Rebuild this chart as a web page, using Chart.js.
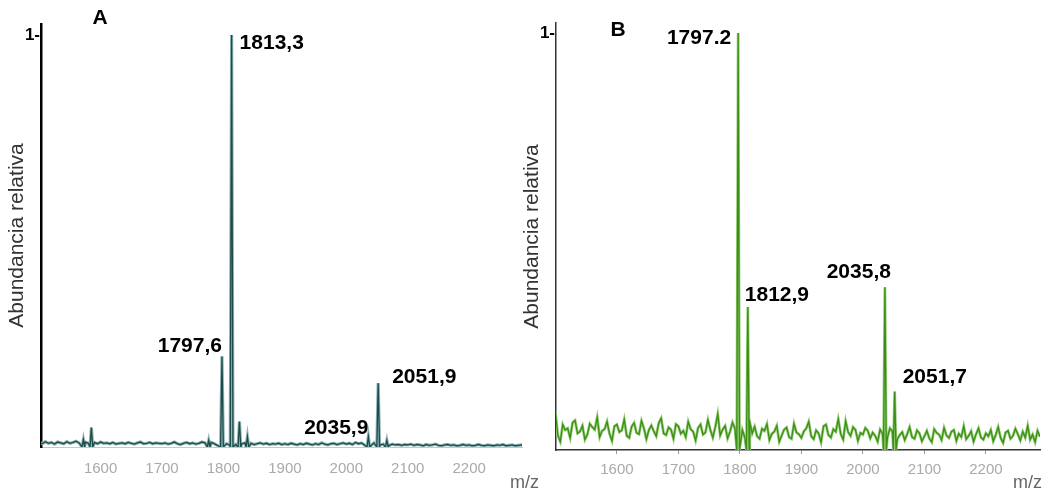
<!DOCTYPE html>
<html>
<head>
<meta charset="utf-8">
<script src="https://cdn.jsdelivr.net/npm/chart.js@4.4.0/dist/chart.umd.min.js"></script>
<style>
  html, body { margin: 0; padding: 0; background: #fff; }
  #wrap { position: relative; width: 1052px; height: 493px; overflow: hidden; }
  .panel { position: absolute; top: 0; }
</style>
</head>
<body>
<div id="wrap">
  <div class="panel" style="left:0"><canvas id="chartA" width="552" height="493"></canvas></div>
  <div class="panel" style="left:520px"><canvas id="chartB" width="532" height="493"></canvas></div>
</div>
<script>
// shared x ticks (m/z)
const xTicks = [1600, 1700, 1800, 1900, 2000, 2100, 2200];

// panel A: baseline noise every 5 m/z from 1500
const noiseStartA = 1500;
const noiseStepA = 5;
const noiseA = [
  0.012,0.008,0.013,0.009,0.011,0.007,0.012,0.010,0.008,0.013,0.009,0.011,0.014,0.010,0.016,0.012,0.009,0.018,0.011,0.008,
  0.012,0.009,0.010,0.008,0.011,0.007,0.009,0.010,0.008,0.011,0.009,0.007,0.010,0.012,0.008,0.009,0.011,0.008,0.010,0.009,
  0.008,0.010,0.007,0.009,0.012,0.008,0.006,0.009,0.011,0.008,0.010,0.007,0.009,0.012,0.010,0.014,0.011,0.008,0.004,0.006,
  0.003,0.008,0.005,0.012,0.006,0.011,0.008,0.010,0.007,0.009,0.006,0.008,0.010,0.007,0.009,0.006,0.008,0.007,0.009,0.006,
  0.008,0.006,0.009,0.007,0.005,0.008,0.006,0.009,0.007,0.005,0.008,0.006,0.010,0.007,0.005,0.008,0.009,0.006,0.008,0.010,
  0.007,0.009,0.006,0.011,0.008,0.010,0.004,0.006,0.003,0.010,0.008,0.005,0.007,0.006,0.004,0.007,0.005,0.006,0.004,0.006,
  0.005,0.007,0.004,0.006,0.005,0.003,0.006,0.004,0.005,0.007,0.004,0.003,0.005,0.006,0.004,0.005,0.003,0.004,0.006,0.004,
  0.005,0.003,0.004,0.006,0.004,0.003,0.005,0.004,0.003,0.005,0.004,0.006,0.003,0.004,0.005,0.003,0.004,0.005,0.004
];
const peakMzA = [1572, 1585, 1776, 1797.6, 1813.3, 1826, 1839, 2035.9, 2051.9, 2066];
const peakHA  = [0.018, 0.047, 0.016, 0.22, 1.0, 0.062, 0.025, 0.025, 0.155, 0.016];
const labelMzA = [1797.6, 1813.3, 2035.9, 2051.9];
const labelTextA = ['1797,6', '1813,3', '2035,9', '2051,9'];

// panel B: baseline noise every 4 m/z from 1500
const noiseStartB = 1500;
const noiseStepB = 4;
const noiseB = [
  0.092,0.035,0.020,0.061,0.048,0.052,0.029,0.066,0.071,0.040,0.044,0.058,0.025,0.037,0.063,0.055,0.049,0.078,0.031,0.046,0.050,0.068,0.039,0.022,0.057,
  0.061,0.043,0.047,0.073,0.034,0.029,0.056,0.065,0.041,0.038,0.070,0.052,0.026,0.048,0.059,0.045,0.033,0.064,0.076,0.040,0.036,0.054,0.049,0.027,0.062,
  0.057,0.039,0.046,0.031,0.068,0.050,0.044,0.023,0.053,0.061,0.037,0.042,0.072,0.048,0.030,0.055,0.086,0.035,0.049,0.058,0.028,0.044,0.066,0.051,0.024,
  0.012,0.048,0.030,0.010,0.067,0.040,0.056,0.033,0.027,0.051,0.046,0.062,0.024,0.039,0.044,0.058,0.020,0.035,0.049,0.054,0.031,0.027,0.063,0.042,0.038,
  0.029,0.045,0.052,0.068,0.033,0.026,0.047,0.040,0.019,0.057,0.061,0.036,0.030,0.050,0.044,0.074,0.038,0.025,0.069,0.043,0.034,0.055,0.048,0.022,0.041,
  0.037,0.053,0.046,0.028,0.042,0.034,0.020,0.049,0.039,0.016,0.030,0.052,0.045,0.057,0.026,0.036,0.043,0.024,0.038,0.055,0.031,0.027,0.047,0.040,0.021,
  0.033,0.046,0.028,0.019,0.050,0.041,0.037,0.024,0.053,0.035,0.029,0.044,0.048,0.022,0.039,0.031,0.057,0.026,0.034,0.045,0.020,0.038,0.052,0.030,0.025,
  0.040,0.033,0.048,0.021,0.036,0.055,0.029,0.017,0.042,0.046,0.027,0.034,0.051,0.038,0.023,0.044,0.030,0.058,0.025,0.037,0.019,0.046,0.032
];
const peakMzB = [1797.2, 1812.9, 2035.8, 2051.7];
const peakHB  = [1.0, 0.343, 0.39, 0.14];
const labelMzB = [1797.2, 1812.9, 2035.8, 2051.7];
const labelTextB = ['1797.2', '1812,9', '2035,8', '2051,7'];

const LABEL_FONT = 'bold 21px "Liberation Sans", Arial, sans-serif';
const AXIS_FONT = '"Liberation Sans", Arial, sans-serif';

// merge noise + narrow peak triangles into one sorted trace
const buildSpectrum = (start, step, noise, peakMz, peakH) => {
  const pts = [];
  noise.forEach((v, i) => {
    const x = start + i * step;
    if (!peakMz.some(m => Math.abs(x - m) < 3)) pts.push({x: x, y: v});
  });
  peakMz.forEach((m, i) => {
    pts.push({x: m - 2.2, y: 0}, {x: m, y: peakH[i]}, {x: m + 2.2, y: 0});
  });
  return pts.sort((a, b) => a.x - b.x);
};

const spectrumText = {
  id: 'spectrumText',
  afterDraw(chart, args, opts) {
    const {ctx, chartArea, scales} = chart;
    ctx.save();
    ctx.textBaseline = 'middle';
    ctx.fillStyle = '#000';
    ctx.font = LABEL_FONT;
    opts.labelMz.forEach((m, i) => {
      const h = opts.peakH[opts.peakMz.indexOf(m)];
      const p = opts.place[i];
      ctx.textAlign = p.align;
      ctx.fillText(opts.labelText[i], scales.x.getPixelForValue(m) + p.dx, scales.y.getPixelForValue(h) + p.dy);
    });
    // panel letter
    ctx.textAlign = 'center';
    ctx.fillText(opts.letter, chartArea.left + opts.letterDx, opts.letterY);
    // x axis name
    ctx.font = '18px ' + AXIS_FONT;
    ctx.fillStyle = '#666';
    ctx.textAlign = 'left';
    ctx.fillText('m/z', chartArea.right + opts.mzDx, 483);
    ctx.restore();
  }
};

const makeChart = (id, cfg) => {
  const data = buildSpectrum(cfg.start, cfg.step, cfg.noise, cfg.peakMz, cfg.peakH);
  return new Chart(document.getElementById(id), {
    type: 'line',
    data: {
      datasets: [
        {data: data, borderColor: cfg.dark, borderWidth: 1.3, pointRadius: 0, tension: 0},
        {data: data, borderColor: cfg.light, borderWidth: cfg.lightWidth, pointRadius: 0, tension: 0}
      ]
    },
    plugins: [spectrumText],
    options: {
      responsive: false,
      animation: false,
      events: [],
      layout: {padding: {left: 0, top: cfg.top, right: cfg.right, bottom: 0}},
      plugins: {
        legend: {display: false},
        tooltip: {enabled: false},
        spectrumText: {
          peakMz: cfg.peakMz, peakH: cfg.peakH,
          labelMz: cfg.labelMz, labelText: cfg.labelText, place: cfg.place,
          letter: cfg.letter, letterDx: cfg.letterDx, letterY: cfg.letterY, mzDx: cfg.mzDx
        }
      },
      scales: {
        x: {
          type: 'linear',
          min: cfg.xmin,
          max: cfg.xmax,
          afterBuildTicks: (s) => { s.ticks = xTicks.map(v => ({value: v})); },
          afterFit: (s) => { s.height = cfg.xHeight; },
          ticks: {
            color: '#aaa', font: {family: AXIS_FONT, size: 15},
            padding: cfg.xPad, maxRotation: 0, autoSkip: false,
            callback: (v) => String(v)
          },
          grid: cfg.xGrid,
          border: cfg.xBorder
        },
        y: {
          min: 0,
          max: cfg.ymax,
          afterBuildTicks: (s) => { s.ticks = [{value: 1}]; },
          afterFit: (s) => { s.width = cfg.yWidth; },
          ticks: {
            color: '#000', font: {family: AXIS_FONT, size: 17, weight: 'bold'},
            padding: 1, callback: () => '1-'
          },
          grid: {display: false, drawTicks: false},
          border: cfg.yBorder,
          title: {
            display: true, text: 'Abundancia relativa', color: '#333',
            font: {family: AXIS_FONT, size: 21}, padding: {top: cfg.titlePad, bottom: 0}
          }
        }
      }
    }
  });
};

makeChart('chartA', {
  start: noiseStartA, step: noiseStepA, noise: noiseA, peakMz: peakMzA, peakH: peakHA,
  labelMz: labelMzA, labelText: labelTextA,
  place: [
    {dx: 0, dy: -10, align: 'right'},
    {dx: 8, dy: 8, align: 'left'},
    {dx: 0, dy: -8, align: 'right'},
    {dx: 14, dy: -6, align: 'left'}
  ],
  letter: 'A', letterDx: 59, letterY: 18, mzDx: -12,
  dark: '#1d4a4a', light: '#8fb6b6', lightWidth: 3.2,
  xmin: 1503, xmax: 2286, ymax: 1.027,
  top: 24, right: 30, yWidth: 41, xHeight: 46, xPad: 13, titlePad: 5,
  xGrid: {display: false, drawTicks: false},
  xBorder: {color: '#c8c8c8', width: 1},
  yBorder: {color: '#000', width: 2.5}
});

makeChart('chartB', {
  start: noiseStartB, step: noiseStepB, noise: noiseB, peakMz: peakMzB, peakH: peakHB,
  labelMz: labelMzB, labelText: labelTextB,
  place: [
    {dx: -7, dy: 5, align: 'right'},
    {dx: -3, dy: -12, align: 'left'},
    {dx: 6, dy: -15, align: 'right'},
    {dx: 8, dy: -14, align: 'left'}
  ],
  letter: 'B', letterDx: 62, letterY: 30, mzDx: -27,
  dark: '#3a8f14', light: '#96cc78', lightWidth: 2.8,
  xmin: 1501, xmax: 2288, ymax: 1.024,
  top: 23, right: 12, yWidth: 36, xHeight: 43, xPad: 7, titlePad: 0,
  xGrid: {display: true, drawOnChartArea: false, drawTicks: true, tickLength: 4, color: '#999'},
  xBorder: {color: '#333', width: 1.5},
  yBorder: {color: '#333', width: 1.5}
});
</script>
</body>
</html>
